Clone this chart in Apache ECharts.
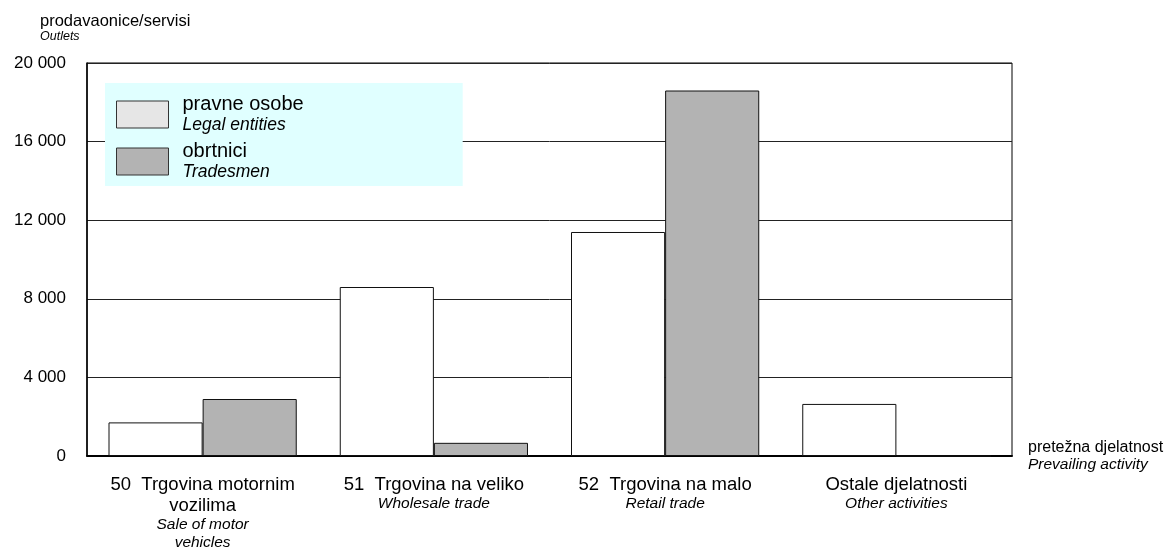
<!DOCTYPE html>
<html>
<head>
<meta charset="utf-8">
<script src="https://cdn.jsdelivr.net/npm/echarts@6/dist/echarts.min.js"></script>
<style>
  html, body { margin: 0; padding: 0; background: #fff; }
  #chart { width: 1167px; height: 550px; }
</style>
</head>
<body>
<div id="chart"></div>
<script>
// Outlets by prevailing activity, legal entities vs. tradesmen
const categories = [
  ['50  Trgovina motornim', 'vozilima', 'Sale of motor', 'vehicles'],
  ['51  Trgovina na veliko', null, 'Wholesale trade', null],
  ['52  Trgovina na malo', null, 'Retail trade', null],
  ['Ostale djelatnosti', null, 'Other activities', null]
];
const legalEntities = [1710, 8600, 11400, 2650];
const tradesmen = [2900, 670, 18600, 0];
const seriesNames = ['pravne osobe', 'obrtnici'];
const seriesNamesEn = ['Legal entities', 'Tradesmen'];
const yTicks = [0, 4000, 8000, 12000, 16000, 20000];

const FONT = '"Liberation Sans", Arial, sans-serif';

function fmtThousands(v) {
  return String(v).replace(/\B(?=(\d{3})+(?!\d))/g, ' ');
}

const catKeys = categories.map((c, i) => 'c' + i);

const chart = echarts.init(document.getElementById('chart'), null, { renderer: 'canvas' });

chart.setOption({
  animation: false,
  textStyle: { fontFamily: FONT, color: '#000' },
  title: {
    left: 35,
    top: 8,
    text: '{a|prodavaonice/servisi}\n{b|Outlets}',
    textStyle: {
      fontWeight: 'normal',
      rich: {
        a: { fontFamily: FONT, fontSize: 16.5, fontWeight: 'normal', color: '#000', lineHeight: 17 },
        b: { fontFamily: FONT, fontSize: 12.5, fontStyle: 'italic', fontWeight: 'normal', color: '#000', lineHeight: 14 }
      }
    }
  },
  legend: {
    orient: 'vertical',
    left: 105,
    top: 83,
    backgroundColor: '#e0ffff',
    padding: [11, 159, 5, 11],
    icon: 'rect',
    itemWidth: 52,
    itemHeight: 27,
    itemGap: 7,
    data: [
      { name: seriesNames[0], itemStyle: { color: '#e6e6e6', borderColor: '#333', borderWidth: 1 } },
      { name: seriesNames[1], itemStyle: { color: '#b3b3b3', borderColor: '#333', borderWidth: 1 } }
    ],
    formatter: name => {
      const i = seriesNames.indexOf(name);
      return '{a|' + name + '}\n{b|' + seriesNamesEn[i] + '}';
    },
    textStyle: {
      padding: [0, 0, 0, 9],
      rich: {
        a: { fontFamily: FONT, fontSize: 20, color: '#000', lineHeight: 21 },
        b: { fontFamily: FONT, fontSize: 17.5, fontStyle: 'italic', color: '#000', lineHeight: 21 }
      }
    }
  },
  grid: {
    left: 87,
    right: 155,
    top: 63,
    bottom: 94,
    show: true,
    borderColor: '#000',
    borderWidth: 1,
    containLabel: false,
    outerBoundsMode: 'none'
  },
  xAxis: {
    type: 'category',
    data: catKeys,
    name: '{a|pretežna djelatnost}\n{b|Prevailing activity}',
    nameLocation: 'end',
    nameGap: 16,
    nameTextStyle: {
      align: 'left',
      verticalAlign: 'middle',
      rich: {
        a: { fontFamily: FONT, fontSize: 16, color: '#000', lineHeight: 17 },
        b: { fontFamily: FONT, fontSize: 15.5, fontStyle: 'italic', color: '#000', lineHeight: 17 }
      }
    },
    axisLine: { show: true, lineStyle: { color: '#000', width: 2 } },
    axisTick: { show: false },
    axisLabel: {
      interval: 0,
      margin: 18,
      formatter: (v, idx) => {
        const c = categories[idx];
        let s = '{a|' + c[0] + '}';
        if (c[1]) s += '\n{a|' + c[1] + '}';
        s += '\n{b|' + c[2] + '}';
        if (c[3]) s += '\n{b|' + c[3] + '}';
        return s;
      },
      rich: {
        a: { fontFamily: FONT, fontSize: 18.5, color: '#000', lineHeight: 21, align: 'center' },
        b: { fontFamily: FONT, fontSize: 15.5, fontStyle: 'italic', color: '#000', lineHeight: 18, align: 'center' }
      }
    },
    splitLine: { show: false }
  },
  yAxis: {
    type: 'value',
    min: yTicks[0],
    max: yTicks[yTicks.length - 1],
    interval: yTicks[1] - yTicks[0],
    axisLine: { show: true, lineStyle: { color: '#000', width: 1.5 } },
    axisTick: { show: false },
    axisLabel: {
      margin: 21,
      fontFamily: FONT,
      fontSize: 17,
      color: '#000',
      formatter: v => fmtThousands(v)
    },
    splitLine: { show: true, lineStyle: { color: '#222', width: 1 } }
  },
  series: [
    {
      name: seriesNames[0],
      type: 'bar',
      data: legalEntities,
      barGap: '0%',
      barCategoryGap: '18.6%',
      itemStyle: { color: '#ffffff', borderColor: '#111', borderWidth: 1 }
    },
    {
      name: seriesNames[1],
      type: 'bar',
      data: tradesmen,
      barGap: '0%',
      barCategoryGap: '18.6%',
      itemStyle: { color: '#b3b3b3', borderColor: '#111', borderWidth: 1 }
    }
  ]
});
</script>
</body>
</html>
